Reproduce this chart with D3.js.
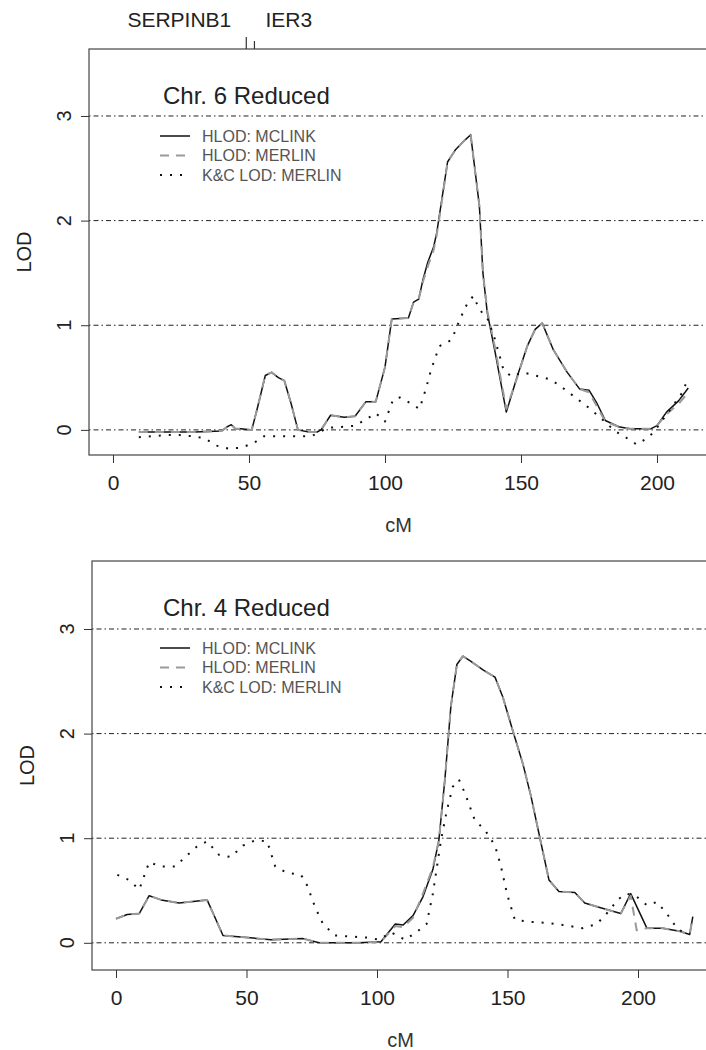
<!DOCTYPE html>
<html>
<head>
<meta charset="utf-8">
<script src="https://cdn.jsdelivr.net/npm/d3@7"></script>
<style>
  html, body { margin: 0; padding: 0; background: #fff; }
  svg { display: block; font-family: "Liberation Sans", Arial, Helvetica, sans-serif; }
</style>
</head>
<body>
<svg id="fig" width="706" height="1050"></svg>
<script>
// ---- Chromosome 6 (reduced) ----
const chr6McCM = [9.5, 20, 30, 40, 42, 43.5, 45, 47, 51, 53, 56, 58.3, 60.8, 63, 65.5, 68, 72, 75, 76.5, 80, 85, 89, 93, 96.6, 100, 102.5, 108.6, 110.5, 112.4, 114, 115.7, 117.9, 119, 121, 123, 126, 129, 131.5, 134.7, 136, 137.6, 140.5, 144.6, 148.6, 152.3, 155.2, 157.8, 161.8, 167, 171.6, 175, 178, 181, 185.9, 190, 197.7, 200, 203.5, 208, 211.5];
const chr6McLod = [-0.02, -0.02, -0.02, -0.01, 0.03, 0.05, 0.01, 0.01, 0.0, 0.2, 0.52, 0.55, 0.5, 0.47, 0.25, 0.0, -0.02, -0.02, 0.0, 0.14, 0.12, 0.13, 0.27, 0.27, 0.6, 1.06, 1.07, 1.22, 1.25, 1.44, 1.6, 1.75, 1.88, 2.22, 2.56, 2.68, 2.76, 2.82, 2.14, 1.5, 1.12, 0.74, 0.17, 0.51, 0.8, 0.96, 1.02, 0.77, 0.55, 0.39, 0.38, 0.25, 0.09, 0.03, 0.01, 0.01, 0.04, 0.17, 0.28, 0.4];
const chr6MerCM = [9.5, 20, 30, 40, 42, 43.5, 45, 47, 51, 53, 56, 58.3, 60.8, 63, 65.5, 68, 72, 75, 76.5, 80, 85, 89, 93, 96.6, 100, 102.5, 108.6, 110.5, 112.4, 114, 115.7, 117.9, 119, 121, 123, 126, 129, 131.5, 134.7, 136, 137.6, 140.5, 144.6, 148.6, 152.3, 155.2, 157.8, 161.8, 167, 171.6, 175, 178, 181, 185.9, 190, 197.7, 200, 203.5, 208, 211.5];
const chr6MerLod = [-0.02, -0.02, -0.02, -0.01, 0.03, 0.05, 0.01, 0.01, 0.0, 0.2, 0.52, 0.55, 0.5, 0.47, 0.25, 0.0, -0.02, -0.02, 0.0, 0.14, 0.12, 0.13, 0.27, 0.27, 0.6, 1.06, 1.07, 1.22, 1.25, 1.42, 1.56, 1.72, 1.86, 2.2, 2.56, 2.68, 2.76, 2.82, 2.14, 1.5, 1.14, 0.78, 0.2, 0.5, 0.8, 0.96, 1.02, 0.77, 0.55, 0.39, 0.36, 0.22, 0.08, 0.03, 0.01, 0.01, 0.04, 0.15, 0.25, 0.36];
const chr6KcCM = [9.5, 14.5, 19.8, 24.5, 29, 33.7, 38, 42.5, 46.9, 51.5, 55.6, 60, 64.4, 68.8, 73, 76, 79, 85, 89, 93, 96.6, 100, 103, 105.4, 109, 112.7, 115, 117, 120, 124.5, 127.4, 130.3, 132.5, 134.7, 137.6, 140.5, 143.5, 146.4, 150.8, 155.2, 161, 165.4, 170, 174, 178.6, 184.5, 189, 192.5, 197, 200, 205, 209.4, 211.5];
const chr6KcLod = [-0.07, -0.06, -0.05, -0.05, -0.06, -0.08, -0.15, -0.18, -0.17, -0.13, -0.06, -0.06, -0.06, -0.06, -0.06, -0.02, 0.02, 0.03, 0.04, 0.1, 0.16, 0.08, 0.29, 0.31, 0.26, 0.2, 0.39, 0.58, 0.8, 0.86, 1.05, 1.21, 1.28, 1.15, 1.07, 0.86, 0.58, 0.51, 0.55, 0.52, 0.48, 0.4, 0.31, 0.23, 0.13, -0.01, -0.08, -0.14, -0.07, 0.02, 0.2, 0.36, 0.5];

// ---- Chromosome 4 (reduced) ----
const chr4McCM = [0, 4.3, 8.9, 12.7, 17.3, 24.2, 34.9, 41, 50.2, 59.4, 71.7, 77.8, 93, 101.5, 107, 110, 113.8, 117.6, 121.4, 123.7, 126, 128.3, 130.6, 132.9, 136, 140.6, 145.2, 148.2, 152, 155.9, 159, 162, 165.9, 169.7, 175.8, 179.6, 185, 193.4, 197.2, 203.4, 209.5, 216, 219.8, 221];
const chr4McLod = [0.23, 0.27, 0.28, 0.45, 0.41, 0.38, 0.41, 0.07, 0.05, 0.03, 0.04, 0.0, 0.0, 0.01, 0.18, 0.17, 0.26, 0.44, 0.7, 0.98, 1.56, 2.26, 2.66, 2.74, 2.69, 2.61, 2.54, 2.35, 2.03, 1.71, 1.4, 1.05, 0.6, 0.49, 0.48, 0.38, 0.34, 0.28, 0.47, 0.14, 0.14, 0.11, 0.08, 0.25];
const chr4MerCM = [0, 4.3, 8.9, 12.7, 17.3, 24.2, 34.9, 41, 50.2, 59.4, 71.7, 77.8, 93, 101.5, 107, 110, 113.8, 117.6, 121.4, 123.7, 126, 128.3, 130.6, 132.9, 136, 140.6, 145.2, 148.2, 152, 155.9, 159, 162, 165.9, 169.7, 175.8, 179.6, 185, 193.4, 197.2, 199.5, 203.4, 209.5, 216, 219.8, 221];
const chr4MerLod = [0.23, 0.27, 0.28, 0.45, 0.41, 0.38, 0.41, 0.07, 0.05, 0.03, 0.04, 0.0, 0.0, 0.01, 0.16, 0.15, 0.24, 0.47, 0.72, 0.98, 1.56, 2.26, 2.66, 2.74, 2.69, 2.61, 2.54, 2.35, 2.03, 1.71, 1.4, 1.05, 0.6, 0.49, 0.48, 0.38, 0.34, 0.28, 0.45, 0.12, 0.14, 0.14, 0.11, 0.08, 0.25];
const chr4KcCM = [0.5, 5, 8.9, 12.7, 17.3, 22.7, 26.5, 31, 34.9, 39.5, 44, 48.7, 53.3, 57.9, 61, 65.5, 70.9, 73.2, 76.3, 79.3, 83.9, 90, 96.2, 100.8, 105.4, 110.7, 114.5, 119, 121.4, 124.5, 126.8, 129, 131.4, 133.7, 137.5, 141.3, 145.2, 147.5, 149.8, 152.8, 159, 165, 171.2, 178.9, 184.2, 188, 192.6, 195.7, 199.5, 203.4, 207.2, 211, 214.9, 217.9];
const chr4KcLod = [0.65, 0.6, 0.51, 0.77, 0.73, 0.73, 0.82, 0.92, 0.97, 0.84, 0.82, 0.93, 0.98, 0.97, 0.73, 0.67, 0.65, 0.55, 0.34, 0.18, 0.07, 0.06, 0.05, 0.03, 0.1, 0.03, 0.09, 0.18, 0.47, 0.98, 1.27, 1.49, 1.56, 1.43, 1.17, 1.08, 0.93, 0.73, 0.47, 0.22, 0.2, 0.19, 0.17, 0.14, 0.18, 0.28, 0.42, 0.47, 0.44, 0.36, 0.39, 0.28, 0.14, 0.09];

// Shared axis values and labels
const xTicks = [0, 50, 100, 150, 200];
const yTicks = [0, 1, 2, 3];
const legendLabels = ["HLOD: MCLINK", "HLOD: MERLIN", "K&C LOD: MERLIN"];
const geneNames = ["SERPINB1", "IER3"];
const geneCM = [49, 52];

const svg = d3.select("#fig");

// Line styles for the three analyses
const styles = [
  { stroke: "#111", width: 1.5, dash: null },
  { stroke: "#9a9a9a", width: 2, dash: "9,7" },
  { stroke: "#111", width: 2, dash: "2,8" }
];

function drawPanel(p) {
  const x = d3.scaleLinear().domain(p.xDomain).range([p.left, p.right]);
  const y = d3.scaleLinear().domain(p.yDomain).range([p.bottom, p.top]);
  const g = svg.append("g");

  // reference lines at each integer LOD
  g.selectAll("line.ref").data(yTicks).join("line")
    .attr("x1", p.left).attr("x2", p.right)
    .attr("y1", d => y(d)).attr("y2", d => y(d))
    .attr("stroke", "#222").attr("stroke-width", 1)
    .attr("stroke-dasharray", "1.5,3,5,3");

  const line = d3.line().x(d => x(d[0])).y(d => y(d[1]));
  p.series.forEach((s, i) => {
    const pts = d3.zip(s.cm, s.lod);
    g.append("path").datum(pts)
      .attr("d", line)
      .attr("fill", "none")
      .attr("stroke", styles[i].stroke)
      .attr("stroke-width", styles[i].width)
      .attr("stroke-linejoin", "round")
      .attr("stroke-dasharray", styles[i].dash);
  });

  // box
  g.append("rect")
    .attr("x", p.left).attr("y", p.top)
    .attr("width", p.right - p.left).attr("height", p.bottom - p.top)
    .attr("fill", "none").attr("stroke", "#444").attr("stroke-width", 1.2);

  // x axis
  const xa = g.append("g").attr("transform", `translate(0,${p.bottom})`)
    .call(d3.axisBottom(x).tickValues(xTicks).tickSize(8).tickPadding(12).tickFormat(d3.format("d")));
  xa.select(".domain").remove();
  xa.selectAll("line").attr("stroke", "#333");
  xa.selectAll("text").attr("font-size", 21).attr("fill", "#222")
    .attr("font-family", "Liberation Sans, Arial, sans-serif");

  // y axis
  const ya = g.append("g").attr("transform", `translate(${p.left},0)`)
    .call(d3.axisLeft(y).tickValues(yTicks).tickSize(8).tickFormat(d3.format("d")));
  ya.select(".domain").remove();
  ya.selectAll("line").attr("stroke", "#333");
  ya.selectAll("text").remove();
  g.selectAll("text.ytl").data(yTicks).join("text")
    .attr("class", "ytl")
    .attr("transform", d => `translate(${p.left - 18},${y(d)}) rotate(-90)`)
    .attr("text-anchor", "middle")
    .attr("font-size", 20).attr("fill", "#222")
    .text(d => d);

  // axis titles
  g.append("text")
    .attr("transform", `translate(${p.left - 58},${(p.top + p.bottom) / 2}) rotate(-90)`)
    .attr("text-anchor", "middle").attr("font-size", 20).attr("fill", "#222")
    .text("LOD");
  g.append("text")
    .attr("x", (p.left + p.right) / 2).attr("y", p.bottom + 77)
    .attr("text-anchor", "middle").attr("font-size", 20).attr("fill", "#333")
    .text("cM");

  // panel title
  g.append("text")
    .attr("x", 163).attr("y", p.top + 55)
    .attr("font-size", 24).attr("fill", "#222")
    .text(p.title);

  // legend
  const lg = g.append("g").attr("transform", `translate(160,${p.top + 87})`);
  legendLabels.forEach((lab, i) => {
    const yy = i * 19.5;
    lg.append("line").attr("x1", 0).attr("x2", 30).attr("y1", yy).attr("y2", yy)
      .attr("stroke", styles[i].stroke).attr("stroke-width", styles[i].width)
      .attr("stroke-dasharray", styles[i].dash);
    lg.append("text").attr("x", 42).attr("y", yy + 5.5)
      .attr("font-size", 16).attr("fill", "#555")
      .text(lab);
  });
  return { x, y, g };
}

const top6 = drawPanel({
  left: 89, right: 708, top: 49, bottom: 455,
  xDomain: [-8.82, 218.75], yDomain: [-0.24, 3.64],
  title: "Chr. 6 Reduced",
  series: [
    { cm: chr6McCM, lod: chr6McLod },
    { cm: chr6MerCM, lod: chr6MerLod },
    { cm: chr6KcCM, lod: chr6KcLod }
  ]
});

drawPanel({
  left: 92, right: 709, top: 561, bottom: 970,
  xDomain: [-9.2, 227.2], yDomain: [-0.26, 3.65],
  title: "Chr. 4 Reduced",
  series: [
    { cm: chr4McCM, lod: chr4McLod },
    { cm: chr4MerCM, lod: chr4MerLod },
    { cm: chr4KcCM, lod: chr4KcLod }
  ]
});

// gene markers above the chromosome 6 panel
geneCM.forEach((c, i) => {
  svg.append("line")
    .attr("x1", top6.x(c)).attr("x2", top6.x(c))
    .attr("y1", i === 0 ? 37 : 41).attr("y2", 49)
    .attr("stroke", "#333").attr("stroke-width", 1.2);
});
svg.append("text")
  .attr("x", top6.x(geneCM[0]) - 15).attr("y", 27)
  .attr("text-anchor", "end").attr("font-size", 21).attr("fill", "#222")
  .text(geneNames[0]);
svg.append("text")
  .attr("x", top6.x(geneCM[1]) + 11).attr("y", 27)
  .attr("text-anchor", "start").attr("font-size", 21).attr("fill", "#222")
  .text(geneNames[1]);
</script>
</body>
</html>
